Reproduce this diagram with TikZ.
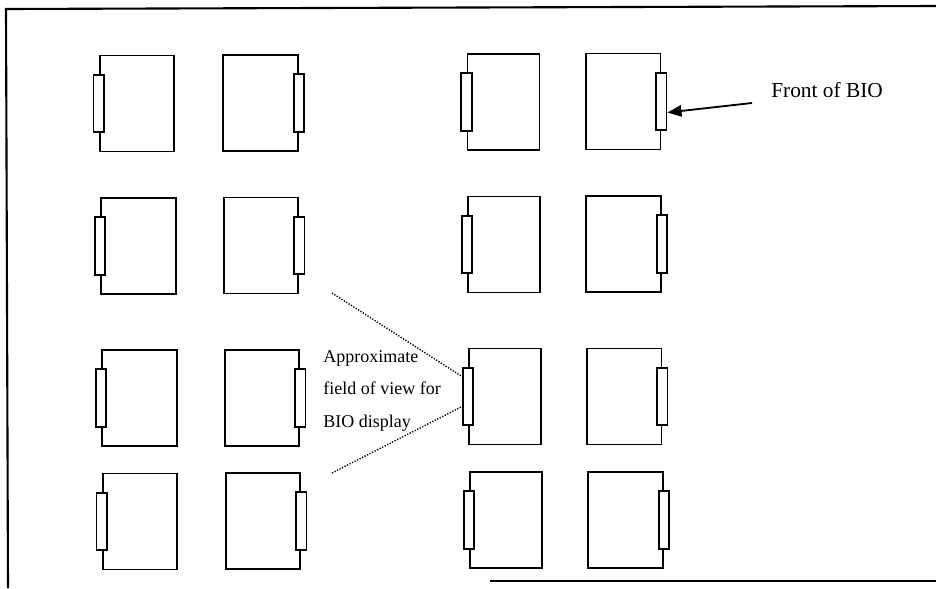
\documentclass[tikz,border=0pt]{standalone}
\usepackage{fontspec}
\setmainfont{Liberation Serif}
\usetikzlibrary{arrows.meta,calc}
\tikzset{
  bio/.style      = {draw, line width=1.3pt, minimum width=1.87cm,
                     minimum height=2.4cm, inner sep=0pt},
  biofront/.style = {draw, fill=white, line width=1.3pt, minimum width=0.26cm,
                     minimum height=1.43cm, inner sep=0pt},
  pointer/.style  = {-{Triangle[length=10pt,width=8pt]}, line width=1.3pt},
  fov/.style      = {line width=1pt, dash pattern=on 0.9pt off 1.1pt},
  frame/.style    = {line width=1.5pt},
}

\begin{document}
\begin{tikzpicture}[x=0.025cm, y=-0.025cm]
\useasboundingbox (0,0) rectangle (936,588);
% border
\draw[frame] (936,6) -- (6,9) -- (8,588);
\draw[frame] (490,581) -- (936,581);

% first row
\node[bio] (b11) at (137,103.5) {};
\node[biofront] (f11) at (b11.west) {};
\node[bio] (b12) at (260.5,103) {};
\node[biofront] (f12) at (b12.east) {};
\node[bio, minimum width=1.8cm] (b13) at (503.5,102) {};
\node[biofront] (f13) at (b13.west) {};
\node[bio] (b14) at (623,101.5) {};
\node[biofront] (f14) at (b14.east) {};

% second row
\node[bio] (b21) at (138.5,246) {};
\node[biofront] (f21) at (b21.west) {};
\node[bio] (b22) at (261,245.5) {};
\node[biofront] (f22) at (b22.east) {};
\node[bio, minimum width=1.8cm] (b23) at (504,244.5) {};
\node[biofront] (f23) at (b23.west) {};
\node[bio] (b24) at (623.5,244) {};
\node[biofront] (f24) at (b24.east) {};

% third row
\node[bio] (b31) at (139.5,398) {};
\node[biofront] (f31) at (b31.west) {};
\node[bio] (b32) at (262,398) {};
\node[biofront] (f32) at (b32.east) {};
\node[bio, minimum width=1.8cm] (b33) at (505,396.5) {};
\node[biofront] (f33) at (b33.west) {};
\node[bio] (b34) at (624,396.5) {};
\node[biofront] (f34) at (b34.east) {};

% fourth row
\node[bio] (b41) at (140,521.5) {};
\node[biofront] (f41) at (b41.west) {};
\node[bio] (b42) at (263,521) {};
\node[biofront] (f42) at (b42.east) {};
\node[bio, minimum width=1.8cm] (b43) at (506,520) {};
\node[biofront] (f43) at (b43.west) {};
\node[bio] (b44) at (625.5,520) {};
\node[biofront] (f44) at (b44.east) {};

% labels
\node[anchor=base west, inner sep=0pt, font=\fontsize{15.2}{18}\selectfont]
  (frontlabel) at (771,97.5) {Front of BIO};
\coordinate (fronttail) at (752,103);
\draw[pointer] (fronttail) -- ($(f14.east)+(0,11)$);

% base of a multi-line node sits on its last line
\node[anchor=base west, align=left, inner sep=0pt,
      font=\fontsize{12.8}{22.8}\selectfont]
  (fovlabel) at (323,427) {Approximate\\field of view for\\BIO display};
\coordinate (fovtop) at (332,293);
\coordinate (fovbot) at (332,473);
\draw[fov] (fovtop) -- ($(f33.west)+(0,-20)$);
\draw[fov] (fovbot) -- ($(f33.west)+(0,10)$);
\end{tikzpicture}
\end{document}
